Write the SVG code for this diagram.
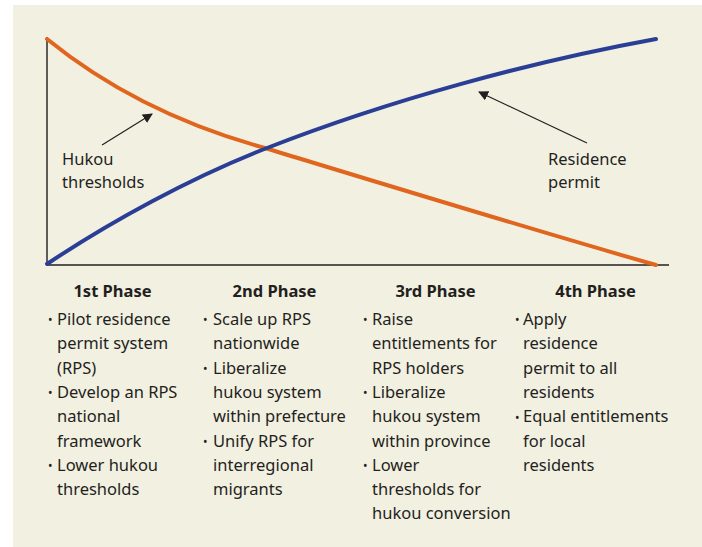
<svg xmlns="http://www.w3.org/2000/svg" width="702" height="547" viewBox="0 0 702 547">
<defs>
<style>
.t{font-family:"Noto Sans","Open Sans","DejaVu Sans",sans-serif;font-size:16.5px;fill:#231F20}
.h{font-family:"Noto Sans","Open Sans","DejaVu Sans",sans-serif;font-size:16.5px;font-weight:bold;fill:#231F20;text-anchor:middle}
.b{font-family:"Noto Sans","DejaVu Sans",sans-serif;font-size:12px;fill:#231F20}
.ax{stroke:#231F20;stroke-width:1.4;fill:none}
.cv{fill:none;stroke-width:4;stroke-linecap:round}
.ar{stroke:#231F20;stroke-width:1.2;fill:none;marker-end:url(#ah)}
</style>
<marker id="ah" viewBox="0 0 10 10" refX="9" refY="5" markerWidth="10" markerHeight="10" markerUnits="userSpaceOnUse" orient="auto">
<path d="M0,0 L10,5 L0,10 Z" fill="#231F20"/>
</marker>
</defs>
<rect x="0" y="0" width="702" height="547" fill="#ffffff"/>
<rect x="13" y="5" width="689" height="542" fill="#F2F0E1"/>
<g id="axes">
<path class="ax" d="M47,37 V265 H669"/>
</g>
<g id="curves">
<path id="hukou-curve" class="cv" stroke="#E0651E" d="M47,39 C100,82 170,122 265,148 C390,186 540,232 656,265"/>
<path id="rps-curve" class="cv" stroke="#2B3E96" d="M47,264 C110,222 190,178 267,148 C390,100 530,62 656,39"/>
</g>
<g id="connectors">
<path class="ar" d="M102,145 L152,114"/>
<path class="ar" d="M587,143 L479,92"/>
</g>
<g id="label-hukou">
<text class="t" x="62" y="165">Hukou</text>
<text class="t" x="62" y="188">thresholds</text>
</g>
<g id="label-rps">
<text class="t" x="548" y="165">Residence</text>
<text class="t" x="548" y="188">permit</text>
</g>
<g id="phase1">
<text class="h" x="112.5" y="297">1st Phase</text>
<text class="b" x="48" y="324">•</text>
<text class="t" x="57" y="325">Pilot residence</text>
<text class="t" x="57" y="349.3">permit system</text>
<text class="t" x="57" y="373.6">(RPS)</text>
<text class="b" x="48" y="397">•</text>
<text class="t" x="57" y="397.9">Develop an RPS</text>
<text class="t" x="57" y="422.2">national</text>
<text class="t" x="57" y="446.5">framework</text>
<text class="b" x="48" y="470">•</text>
<text class="t" x="57" y="470.8">Lower hukou</text>
<text class="t" x="57" y="495.1">thresholds</text>
</g>
<g id="phase2">
<text class="h" x="274.5" y="297">2nd Phase</text>
<text class="b" x="203" y="324">•</text>
<text class="t" x="213" y="325">Scale up RPS</text>
<text class="t" x="213" y="349.3">nationwide</text>
<text class="b" x="203" y="373">•</text>
<text class="t" x="213" y="373.6">Liberalize</text>
<text class="t" x="213" y="397.9">hukou system</text>
<text class="t" x="213" y="422.2">within prefecture</text>
<text class="b" x="203" y="446">•</text>
<text class="t" x="213" y="446.5">Unify RPS for</text>
<text class="t" x="213" y="470.8">interregional</text>
<text class="t" x="213" y="495.1">migrants</text>
</g>
<g id="phase3">
<text class="h" x="435.5" y="297">3rd Phase</text>
<text class="b" x="363" y="324">•</text>
<text class="t" x="372" y="325">Raise</text>
<text class="t" x="372" y="349.3">entitlements for</text>
<text class="t" x="372" y="373.6">RPS holders</text>
<text class="b" x="363" y="397">•</text>
<text class="t" x="372" y="397.9">Liberalize</text>
<text class="t" x="372" y="422.2">hukou system</text>
<text class="t" x="372" y="446.5">within province</text>
<text class="b" x="363" y="470">•</text>
<text class="t" x="372" y="470.8">Lower</text>
<text class="t" x="372" y="495.1">thresholds for</text>
<text class="t" x="372" y="519.4">hukou conversion</text>
</g>
<g id="phase4">
<text class="h" x="595.5" y="297">4th Phase</text>
<text class="b" x="515" y="324">•</text>
<text class="t" x="523" y="325">Apply</text>
<text class="t" x="523" y="349.3">residence</text>
<text class="t" x="523" y="373.6">permit to all</text>
<text class="t" x="523" y="397.9">residents</text>
<text class="b" x="515" y="422">•</text>
<text class="t" x="523" y="422.2">Equal entitlements</text>
<text class="t" x="523" y="446.5">for local</text>
<text class="t" x="523" y="470.8">residents</text>
</g>
</svg>
